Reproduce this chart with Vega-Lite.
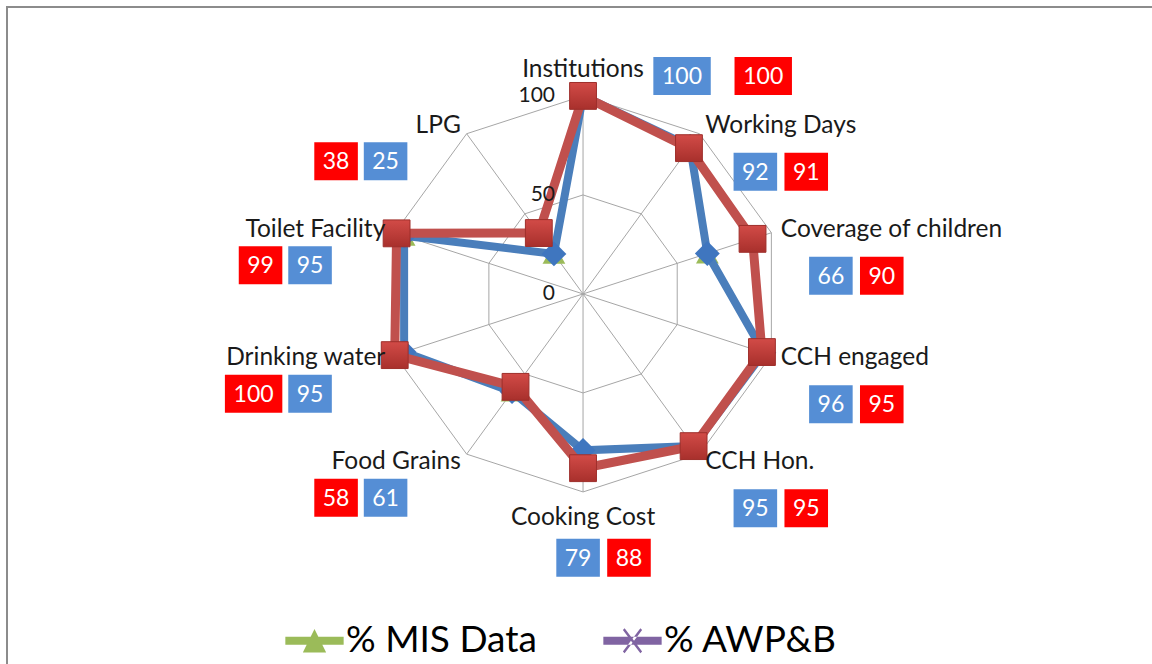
{
  "$schema": "https://vega.github.io/schema/vega-lite/v6.json",
  "width": 1160,
  "height": 680,
  "autosize": {"type": "none"},
  "padding": {"left": 7, "top": 7, "right": 0, "bottom": 0},
  "background": "white",
  "config": {"font": "Lato", "view": {"stroke": "#8c8c8c", "strokeWidth": 2}},
  "data": {"values": [
    {"category": "Institutions", "i": 0, "mis": 100, "awp": 100},
    {"category": "Working Days", "i": 1, "mis": 92, "awp": 91},
    {"category": "Coverage of children", "i": 2, "mis": 66, "awp": 90},
    {"category": "CCH engaged", "i": 3, "mis": 96, "awp": 95},
    {"category": "CCH Hon.", "i": 4, "mis": 95, "awp": 95},
    {"category": "Cooking Cost", "i": 5, "mis": 79, "awp": 88},
    {"category": "Food Grains", "i": 6, "mis": 61, "awp": 58},
    {"category": "Drinking water", "i": 7, "mis": 95, "awp": 100},
    {"category": "Toilet Facility", "i": 8, "mis": 95, "awp": 99},
    {"category": "LPG", "i": 9, "mis": 25, "awp": 38}
  ]},
  "transform": [
    {"calculate": "datum.i * PI / 5", "as": "a"},
    {"calculate": "sin(datum.a)", "as": "sa"},
    {"calculate": "cos(datum.a)", "as": "ca"}
  ],
  "layer": [
    {
      "transform": [{"calculate": "100*datum.sa", "as": "gx"}, {"calculate": "100*datum.ca", "as": "gy"}],
      "mark": {"type": "line", "interpolate": "linear-closed", "stroke": "#a6a6a6", "strokeWidth": 1},
      "encoding": {
        "x": {"field": "gx", "type": "quantitative", "scale": {"domain": [-290.9, 294.9], "nice": false, "zero": false}, "axis": null},
        "y": {"field": "gy", "type": "quantitative", "scale": {"domain": [-198.5, 144.9], "nice": false, "zero": false}, "axis": null},
        "order": {"field": "i"}
      }
    },
    {
      "transform": [{"calculate": "50*datum.sa", "as": "gx"}, {"calculate": "50*datum.ca", "as": "gy"}],
      "mark": {"type": "line", "interpolate": "linear-closed", "stroke": "#a6a6a6", "strokeWidth": 1},
      "encoding": {
        "x": {"field": "gx", "type": "quantitative"},
        "y": {"field": "gy", "type": "quantitative"},
        "order": {"field": "i"}
      }
    },
    {
      "transform": [{"calculate": "100*datum.sa", "as": "gx"}, {"calculate": "100*datum.ca", "as": "gy"}],
      "mark": {"type": "rule", "stroke": "#a6a6a6", "strokeWidth": 1},
      "encoding": {
        "x": {"field": "gx", "type": "quantitative"},
        "y": {"field": "gy", "type": "quantitative"},
        "x2": {"datum": 0},
        "y2": {"datum": 0}
      }
    },
    {
      "transform": [{"calculate": "'% MIS Data'", "as": "series"}, {"calculate": "datum.mis*datum.sa", "as": "px"}, {"calculate": "datum.mis*datum.ca", "as": "py"}],
      "layer": [
        {"mark": {"type": "line", "interpolate": "linear-closed", "strokeWidth": 6}},
        {"mark": {"type": "point", "shape": "triangle-up", "filled": true, "size": 520, "opacity": 1}}
      ],
      "encoding": {
        "x": {"field": "px", "type": "quantitative"},
        "y": {"field": "py", "type": "quantitative"},
        "order": {"field": "i"},
        "color": {
          "field": "series", "type": "nominal",
          "scale": {"domain": ["% MIS Data", "% AWP&B"], "range": ["#9bbb59", "#8064a2"]},
          "legend": {
            "title": null, "orient": "none", "legendX": 278, "legendY": 604,
            "direction": "horizontal", "columns": 2, "padding": 0,
            "labelFontSize": 37, "labelColor": "#000000", "labelFont": "Lato", "labelLimit": 0,
            "symbolSize": 3400, "labelOffset": 2, "columnPadding": 66,
            "symbolStrokeWidth": 0,
            "encode": {"symbols": {"update": {
              "shape": {"signal": "datum.value == '% MIS Data' ? 'M-1,-0.14L1,-0.14L1,0.14L-1,0.14Z M-0.4,0.4L0,-0.4L0.4,0.4Z' : 'M-1,-0.14L1,-0.14L1,0.14L-1,0.14Z M-0.33,-0.37L-0.27,-0.43L0.33,0.37L0.27,0.43Z M0.33,-0.37L0.27,-0.43L-0.33,0.37L-0.27,0.43Z'"},
              "fill": {"signal": "datum.value == '% MIS Data' ? '#9bbb59' : '#8064a2'"},
              "stroke": {"value": "transparent"},
              "strokeWidth": {"value": 0},
              "opacity": {"value": 1}
            }}}
          }
        }
      }
    },
    {
      "transform": [{"calculate": "'% AWP&B'", "as": "series"}, {"calculate": "datum.awp*datum.sa", "as": "px"}, {"calculate": "datum.awp*datum.ca", "as": "py"}],
      "layer": [
        {"mark": {"type": "line", "interpolate": "linear-closed", "strokeWidth": 6}},
        {"mark": {"type": "point", "shape": "cross", "filled": true, "size": 300, "opacity": 1}}
      ],
      "encoding": {
        "x": {"field": "px", "type": "quantitative"},
        "y": {"field": "py", "type": "quantitative"},
        "order": {"field": "i"},
        "color": {"field": "series", "type": "nominal"}
      }
    },
    {
      "transform": [{"calculate": "datum.mis*datum.sa", "as": "px"}, {"calculate": "datum.mis*datum.ca", "as": "py"}],
      "layer": [
        {"mark": {"type": "line", "interpolate": "linear-closed", "strokeWidth": 8, "color": "#4a7ebb"}},
        {"mark": {"type": "point", "shape": "diamond", "filled": true, "size": 620, "opacity": 1, "color": "#3f76bf"}}
      ],
      "encoding": {
        "x": {"field": "px", "type": "quantitative"},
        "y": {"field": "py", "type": "quantitative"},
        "order": {"field": "i"}
      }
    },
    {
      "transform": [{"calculate": "datum.awp*datum.sa", "as": "px"}, {"calculate": "datum.awp*datum.ca", "as": "py"}],
      "layer": [
        {"mark": {"type": "line", "interpolate": "linear-closed", "strokeWidth": 9, "color": "#c0504d"}},
        {"mark": {"type": "point", "shape": "square", "filled": true, "size": 720, "opacity": 1,
          "color": {"gradient": "linear", "x1": 0, "y1": 0, "x2": 0, "y2": 1, "stops": [{"offset": 0, "color": "#d24b47"}, {"offset": 1, "color": "#a8302c"}]},
          "stroke": "#9e2f2b", "strokeWidth": 1}}
      ],
      "encoding": {
        "x": {"field": "px", "type": "quantitative"},
        "y": {"field": "py", "type": "quantitative"},
        "order": {"field": "i"}
      }
    },
    {
      "data": {"values": [{"tick": 0}, {"tick": 50}, {"tick": 100}]},
      "mark": {"type": "text", "align": "right", "baseline": "middle", "dx": -28, "fontSize": 21, "color": "#1a1a1a"},
      "encoding": {
        "x": {"datum": 0},
        "y": {"field": "tick", "type": "quantitative"},
        "text": {"field": "tick", "type": "quantitative"}
      }
    },
    {
      "transform": [
        {"calculate": "(datum.i==0||datum.i==5) ? 113 : 105", "as": "lr"},
        {"calculate": "datum.lr*datum.sa", "as": "lx"},
        {"calculate": "datum.lr*datum.ca", "as": "ly"}
      ],
      "layer": [
        {"transform": [{"filter": "datum.i==0||datum.i==5"}], "mark": {"type": "text", "align": "center", "baseline": "middle", "fontSize": 24.5, "color": "#1a1a1a"}},
        {"transform": [{"filter": "datum.i>0&&datum.i<5"}], "mark": {"type": "text", "align": "left", "baseline": "middle", "fontSize": 24.5, "color": "#1a1a1a"}},
        {"transform": [{"filter": "datum.i>5"}], "mark": {"type": "text", "align": "right", "baseline": "middle", "fontSize": 24.5, "color": "#1a1a1a"}}
      ],
      "encoding": {
        "x": {"field": "lx", "type": "quantitative"},
        "y": {"field": "ly", "type": "quantitative"},
        "text": {"field": "category", "type": "nominal"}
      }
    },
    {
      "transform": [
        {"fold": ["mis", "awp"], "as": ["k", "v"]},
        {"calculate": "(datum.i==0||datum.i==5) ? 113 : 105", "as": "lr"},
        {"calculate": "datum.lr*datum.sa", "as": "lx"},
        {"calculate": "datum.lr*datum.ca", "as": "ly"},
        {"calculate": "length(toString(datum.v)) == 3 ? 14.5 : 11", "as": "hw"},
        {"calculate": "datum.i==0 ? 't' : datum.i==5 ? 'b' : datum.i<5 ? 'r' : 'l'", "as": "side"},
        {"calculate": "datum.side=='t' ? (datum.k=='mis' ? 50 : 91) : datum.side=='b' ? (datum.k=='mis' ? -2.5 : 23.2) : datum.side=='r' ? (datum.k=='mis' ? 25.3 : 51) : (datum.k=='mis' ? -38 : -52 - datum.hw)", "as": "ox"},
        {"calculate": "datum.side=='t' ? -3 : datum.side=='b' ? -20.2 : datum.side=='r' ? -23.3 : -18", "as": "oy"},
        {"calculate": "datum.lx + datum.ox", "as": "bx"},
        {"calculate": "datum.ly + datum.oy", "as": "by"},
        {"calculate": "datum.bx - datum.hw", "as": "bx1"},
        {"calculate": "datum.bx + datum.hw", "as": "bx2"},
        {"calculate": "datum.by - 9.6", "as": "by1"},
        {"calculate": "datum.by + 9.6", "as": "by2"}
      ],
      "layer": [
        {
          "mark": {"type": "rect"},
          "encoding": {
            "x": {"field": "bx1", "type": "quantitative"},
            "x2": {"field": "bx2"},
            "y": {"field": "by1", "type": "quantitative"},
            "y2": {"field": "by2"},
            "fill": {"condition": {"test": "datum.k=='mis'", "value": "#558ed5"}, "value": "#ff0000"}
          }
        },
        {
          "mark": {"type": "text", "align": "center", "baseline": "middle", "fontSize": 23, "color": "white", "dy": 1},
          "encoding": {
            "x": {"field": "bx", "type": "quantitative"},
            "y": {"field": "by", "type": "quantitative"},
            "text": {"field": "v", "type": "quantitative"}
          }
        }
      ]
    }
  ]
}
